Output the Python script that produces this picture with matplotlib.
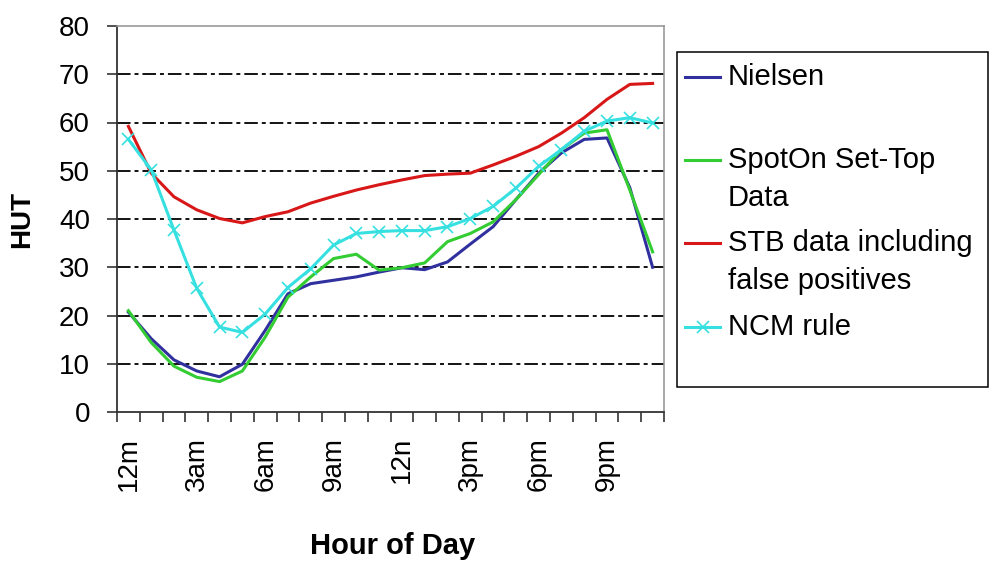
import matplotlib
matplotlib.use("Agg")
import matplotlib.pyplot as plt
from matplotlib.lines import Line2D
from matplotlib.patches import Rectangle
import numpy as np

plt.rcParams['font.family'] = ['Liberation Sans', 'DejaVu Sans']

# ---------- data ----------
hours = list(range(24))
hour_labels = ["12m", "3am", "6am", "9am", "12n", "3pm", "6pm", "9pm"]

nielsen = [20.7, 15.2, 10.8, 8.5, 7.3, 9.9, 16.9, 24.5, 26.6, 27.3, 28.0, 29.0,
           29.9, 29.5, 31.1, 34.8, 38.4, 44.0, 49.5, 53.7, 56.5, 56.8, 46.5, 30.0]
spoton = [21.0, 14.4, 9.5, 7.2, 6.3, 8.5, 15.5, 23.8, 28.0, 31.8, 32.7, 29.4,
          29.9, 30.9, 35.3, 37.0, 39.4, 44.0, 49.2, 54.4, 57.8, 58.5, 46.0, 33.2]
stb_fp = [59.2, 49.5, 44.6, 41.9, 40.1, 39.2, 40.5, 41.5, 43.3, 44.7, 46.0, 47.1,
          48.1, 49.0, 49.3, 49.5, 51.2, 53.0, 55.0, 57.8, 61.0, 64.8, 67.9, 68.1]
ncm = [56.5, 50.2, 37.7, 25.6, 17.6, 16.5, 20.3, 25.8, 29.7, 34.6, 37.0, 37.4,
       37.6, 37.6, 38.4, 40.1, 42.6, 46.4, 50.9, 54.4, 58.2, 60.3, 61.0, 59.9]

series_labels = ["Nielsen", "SpotOn Set-Top\nData",
                 "STB data including\nfalse positives", "NCM rule"]
colors = ["#30309f", "#33cc33", "#d81818", "#36e0e0"]
yticks = [0, 10, 20, 30, 40, 50, 60, 70, 80]

W, H = 990, 562
fig = plt.figure(figsize=(W / 100, H / 100), dpi=100)
ax = fig.add_axes([117 / W, 1 - 412 / H, 547 / W, 386 / H])

# gridlines (dash-dot, black), not at 0 and 80
for v in yticks[1:-1]:
    ax.axhline(v, color="black", linewidth=1.3, linestyle=(0, (7.5, 2.2, 2.2, 2.2)),
               zorder=1)

lw = 2.2
ax.plot(hours, nielsen, color=colors[0], lw=lw, zorder=3)
ax.plot(hours, spoton, color=colors[1], lw=lw, zorder=3)
ax.plot(hours, stb_fp, color=colors[2], lw=lw, zorder=3)
ax.plot(hours, ncm, color=colors[3], lw=lw, marker="x", markersize=9,
        markeredgewidth=1.2, zorder=3)

ax.set_xlim(-0.5, 23.5)
ax.set_ylim(0, 80)
ax.set_yticks(yticks)

# category boundaries as major ticks, labels every 3 hours on minor ticks
ax.set_xticks(np.arange(-0.5, 24, 1))
ax.set_xticklabels([])
ax.set_xticks(hours[::3], minor=True)
ax.set_xticklabels(hour_labels, minor=True, rotation=90, fontsize=20)
ax.tick_params(axis="x", which="major", direction="out", length=7.5, width=1.2,
               color="#333333")
ax.tick_params(axis="x", which="minor", length=0, pad=18)
ax.tick_params(axis="y", direction="out", length=7.5, width=1.2, color="#333333",
               labelsize=20, pad=12)

for s in ["left", "bottom"]:
    ax.spines[s].set_color("#333333")
    ax.spines[s].set_linewidth(1.3)
for s in ["top", "right"]:
    ax.spines[s].set_color("#999999")
    ax.spines[s].set_linewidth(1.2)

ax.set_ylabel("HUT", fontsize=20, fontweight="bold")
ax.yaxis.set_label_coords(-0.15, 0.5)
ax.set_xlabel("Hour of Day", fontsize=21, fontweight="bold", va="top")
ax.xaxis.set_label_coords(0.504, -0.31)

# ---------- legend box, drawn by hand to match the Excel layout ----------
def fx(px):
    return px / W

def fy(py):
    return 1 - py / H

fig.add_artist(Rectangle((fx(677), fy(387)), fx(988) - fx(677), fy(52) - fy(387),
                         transform=fig.transFigure, fill=False,
                         edgecolor="black", linewidth=1.1))

entry_y = [77, 160, 243, 327]
line_gap = 38
for i, (lab, y) in enumerate(zip(series_labels, entry_y)):
    fig.add_artist(Line2D([fx(685), fx(720)], [fy(y), fy(y)],
                          transform=fig.transFigure, color=colors[i], lw=lw))
    if i == 3:
        fig.add_artist(Line2D([fx(702.5)], [fy(y)], transform=fig.transFigure,
                              color=colors[i], marker="x", markersize=9,
                              markeredgewidth=1.2, linestyle="none"))
    for j, part in enumerate(lab.split("\n")):
        fig.text(fx(728), fy(y + j * line_gap), part, fontsize=21,
                 ha="left", va="center")

fig.savefig("out.png", dpi=100)
